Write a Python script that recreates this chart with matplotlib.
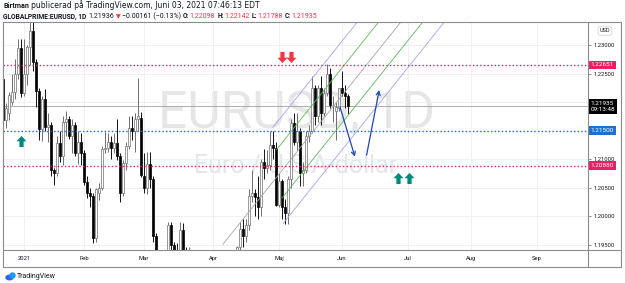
import matplotlib
matplotlib.use("Agg")
import matplotlib.pyplot as plt
import matplotlib.transforms as mtransforms
from matplotlib.path import Path
from matplotlib.patches import Ellipse
import numpy as np

W, H, DPI = 625, 283, 100

# GLOBALPRIME:EURUSD daily candles, 22 Dec 2020 .. 3 Jun 2021 (one entry per bar)
opens = [1.2241, 1.2168, 1.2180, 1.2200, 1.2218, 1.2250, 1.2294, 1.2215, 1.2250, 1.2297,
         1.2325, 1.2270, 1.2220, 1.2152, 1.2206, 1.2157, 1.2160, 1.2080, 1.2075, 1.2128,
         1.2105, 1.2165, 1.2170, 1.2140, 1.2160, 1.2110, 1.2130, 1.2110, 1.2060, 1.2040,
         1.2035, 1.1962, 1.2040, 1.2050, 1.2118, 1.2120, 1.2130, 1.2120, 1.2128, 1.2105,
         1.2040, 1.2093, 1.2122, 1.2155, 1.2150, 1.2170, 1.2172, 1.2070, 1.2049, 1.2092,
         1.2065, 1.1965, 1.1915, 1.1847, 1.1900, 1.1928, 1.1985, 1.1950, 1.1930, 1.1900,
         1.1975, 1.1915, 1.1905, 1.1935, 1.1850, 1.1815, 1.1780, 1.1795, 1.1765, 1.1730,
         1.1730, 1.1775, 1.1760, 1.1812, 1.1873, 1.1870, 1.1915, 1.1900, 1.1910, 1.1945,
         1.1978, 1.1965, 1.1985, 1.2035, 1.2040, 1.2033, 1.2015, 1.2095, 1.2085, 1.2090,
         1.2125, 1.2120, 1.2020, 1.2062, 1.2015, 1.2005, 1.2065, 1.2163, 1.2130, 1.2150,
         1.2075, 1.2080, 1.2140, 1.2150, 1.2225, 1.2175, 1.2225, 1.2180, 1.2215, 1.2250,
         1.2195, 1.2185, 1.2190, 1.2225, 1.2215, 1.22098]
highs = [1.2245, 1.2198, 1.2218, 1.2250, 1.2275, 1.2310, 1.2310, 1.2310, 1.2300, 1.2349,
         1.2340, 1.2275, 1.2225, 1.2210, 1.2222, 1.2180, 1.2165, 1.2085, 1.2140, 1.2150,
         1.2175, 1.2185, 1.2175, 1.2170, 1.2165, 1.2150, 1.2145, 1.2115, 1.2070, 1.2050,
         1.2040, 1.2050, 1.2058, 1.2122, 1.2148, 1.2145, 1.2140, 1.2145, 1.2170, 1.2110,
         1.2098, 1.2130, 1.2175, 1.2175, 1.2180, 1.2243, 1.2183, 1.2110, 1.2113, 1.2113,
         1.2070, 1.1970, 1.1925, 1.1905, 1.1935, 1.1990, 1.1990, 1.1955, 1.1952, 1.1990,
         1.1988, 1.1945, 1.1945, 1.1940, 1.1860, 1.1830, 1.1800, 1.1800, 1.1775, 1.1747,
         1.1790, 1.1780, 1.1820, 1.1875, 1.1895, 1.1925, 1.1925, 1.1920, 1.1948, 1.1990,
         1.1995, 1.1995, 1.2048, 1.2080, 1.2048, 1.2070, 1.2100, 1.2117, 1.2115, 1.2150,
         1.2150, 1.2130, 1.2075, 1.2065, 1.2030, 1.2070, 1.2170, 1.2180, 1.2180, 1.2155,
         1.2095, 1.2150, 1.2160, 1.2245, 1.2230, 1.2230, 1.2245, 1.2225, 1.2266, 1.2260,
         1.2210, 1.2200, 1.2225, 1.2255, 1.2230, 1.22142]
lows = [1.2160, 1.2155, 1.2168, 1.2195, 1.2205, 1.2240, 1.2209, 1.2210, 1.2230, 1.2265,
        1.2255, 1.2192, 1.2133, 1.2132, 1.2150, 1.2130, 1.2070, 1.2055, 1.2070, 1.2095,
        1.2090, 1.2140, 1.2135, 1.2110, 1.2105, 1.2092, 1.2090, 1.2055, 1.2032, 1.2015,
        1.1952, 1.1955, 1.2028, 1.2045, 1.2110, 1.2112, 1.2100, 1.2110, 1.2098, 1.2025,
        1.2036, 1.2080, 1.2118, 1.2133, 1.2112, 1.2150, 1.2068, 1.2040, 1.2038, 1.2050,
        1.1955, 1.1893, 1.1835, 1.1835, 1.1865, 1.1915, 1.1910, 1.1905, 1.1895, 1.1885,
        1.1905, 1.1875, 1.1880, 1.1845, 1.1810, 1.1760, 1.1762, 1.1762, 1.1712, 1.1705,
        1.1705, 1.1745, 1.1740, 1.1795, 1.1835, 1.1865, 1.1870, 1.1875, 1.1870, 1.1935,
        1.1945, 1.1955, 1.1975, 1.2025, 1.2000, 1.1995, 1.2000, 1.2065, 1.2075, 1.2080,
        1.2100, 1.2018, 1.2015, 1.1995, 1.1986, 1.1986, 1.2050, 1.2125, 1.2115, 1.2052,
        1.2052, 1.2075, 1.2130, 1.2145, 1.2160, 1.2165, 1.2160, 1.2175, 1.2210, 1.2190,
        1.2165, 1.2133, 1.2185, 1.2210, 1.2190, 1.21788]
closes = [1.2168, 1.2189, 1.2212, 1.2218, 1.2250, 1.2294, 1.2215, 1.2250, 1.2297, 1.2325,
          1.2270, 1.2220, 1.2152, 1.2206, 1.2157, 1.2160, 1.2080, 1.2075, 1.2128, 1.2105,
          1.2165, 1.2170, 1.2140, 1.2160, 1.2110, 1.2130, 1.2110, 1.2060, 1.2040, 1.2035,
          1.1962, 1.2048, 1.2050, 1.2118, 1.2120, 1.2130, 1.2120, 1.2128, 1.2105, 1.2040,
          1.2093, 1.2122, 1.2155, 1.2150, 1.2170, 1.2175, 1.2072, 1.2049, 1.2092, 1.2065,
          1.1965, 1.1915, 1.1847, 1.1900, 1.1928, 1.1985, 1.1950, 1.1930, 1.1900, 1.1975,
          1.1915, 1.1905, 1.1935, 1.1850, 1.1815, 1.1780, 1.1795, 1.1765, 1.1730, 1.1730,
          1.1775, 1.1760, 1.1812, 1.1873, 1.1870, 1.1915, 1.1900, 1.1910, 1.1945, 1.1978,
          1.1965, 1.1985, 1.2035, 1.2040, 1.2033, 1.2015, 1.2095, 1.2085, 1.2090, 1.2125,
          1.2120, 1.2020, 1.2062, 1.2015, 1.2005, 1.2065, 1.2163, 1.2130, 1.2150, 1.2075,
          1.2080, 1.2140, 1.2150, 1.2225, 1.2175, 1.2225, 1.2180, 1.2215, 1.2250, 1.2195,
          1.2195, 1.2192, 1.2225, 1.2215, 1.2210, 1.21935]

# time axis: first bar of each month (bar index) and its label
month_bars = [8, 28, 48, 71, 93, 114, 136, 157, 179]
month_labels = ["2021", "Feb", "Mar", "Apr", "Maj", "Jun", "Jul", "Aug", "Sep"]
price_ticks = [1.195, 1.200, 1.205, 1.210, 1.215, 1.220, 1.225, 1.230]
# these two sit under the price boxes on the scale
hidden_ticks = [1.215, 1.220]

# horizontal levels and the live price
levels = [1.22651, 1.21500, 1.20880]
last_price = 1.21935
countdown = "09:13:48"

# fib channel lines: start (bar, price) -> end (bar, price)
chan_x0 = [91.0, 92.2, 74.3, 94.0, 94.4]
chan_p0 = [1.21557, 1.21165, 1.19504, 1.20316, 1.19870]
chan_x1 = [122.1, 129.2, 136.6, 143.9, 151.1]
chan_p1 = [1.2360, 1.2360, 1.2360, 1.2360, 1.2360]

# hand drawn projection arrows (bar, price)
path1_from, path1_to = (113.3, 1.21918), (118.3, 1.21040)
path2_from, path2_to = (122.2, 1.21070), (126.4, 1.22211)

# block arrows
up_bars = [7.0, 132.5, 136.3]
up_prices = [1.21316, 1.20675, 1.20675]
down_bars = [94.0, 97.0]
down_prices = [1.22795, 1.22795]

RED = "#f23645"
PINK = "#e91e63"
BLUE = "#1f6fd1"
TEAL = "#00897b"
INK = "#131722"
FRAME = "#8c8c8c"

fig = plt.figure(figsize=(W / DPI, H / DPI), dpi=DPI)
fig.patch.set_facecolor("white")
ax = fig.add_axes([3 / W, 1 - 250 / H, 585 / W, 228 / H])
ax.set_xlim(1, 196)
ax.set_ylim(1.19404, 1.23404)
for s in ax.spines.values():
    s.set_visible(False)

ax.set_xticks(month_bars, month_labels)
ax.set_yticks(price_ticks, ["" if p in hidden_ticks else f"{p:.5f}" for p in price_ticks])
ax.yaxis.tick_right()
ax.tick_params(axis="y", length=2.2, width=0.6, color="#787b86", pad=1.5,
               labelsize=4.2, labelcolor=INK)
ax.tick_params(axis="x", length=0, pad=4.6, labelsize=4.2, labelcolor=INK)
for lab in ax.get_xticklabels() + ax.get_yticklabels():
    lab.set_family("Roboto")
ax.grid(color="#eeeeee", lw=0.6, zorder=0)
ax.set_axisbelow(True)

# watermark
ax.text(0.501, 0.535, "EURUSD, 1D", transform=ax.transAxes, ha="center", va="baseline",
        fontsize=37, family="Roboto", color="#e6e6e6", zorder=0.5)
ax.text(0.501, 0.338, "Euro / U.S.A-dollar", transform=ax.transAxes, ha="center",
        va="baseline", fontsize=18, family="Roboto", color="#e6e6e6", zorder=0.5)

# candles
o, h, l, c = (np.array(v) for v in (opens, highs, lows, closes))
x = np.arange(1, len(o) + 1)
up = c >= o
ax.vlines(x, l, h, colors=np.where(up, "#6f6f6f", "#111111"), lw=0.7, zorder=2)
ax.bar(x, np.maximum(np.abs(c - o), 0.00005), bottom=np.minimum(o, c), width=0.7,
       color=np.where(up, "white", "black"), edgecolor=np.where(up, "#6f6f6f", "black"),
       linewidth=0.5, zorder=3)

# channel
chan_col = ["#a5a3f2", "#5cb85c", "#a6a6a6", "#5cb85c", "#a5a3f2"]
for x0, p0, x1, p1, col in zip(chan_x0, chan_p0, chan_x1, chan_p1, chan_col):
    ax.plot([x0, x1], [p0, p1], color=col, lw=0.6, zorder=4)

# levels
ax.axhline(last_price, color="#a0a0a0", lw=0.6, zorder=1.5)
for lvl, col in zip(levels, [PINK, BLUE, PINK]):
    ax.axhline(lvl, color=col, lw=1.0, ls=(0, (1, 1.6)), zorder=4)

# projection arrows
for a, b in ((path1_from, path1_to), (path2_from, path2_to)):
    ax.annotate("", xy=b, xytext=a,
                arrowprops=dict(arrowstyle="->", color="#1f48ad", lw=0.9,
                                mutation_scale=7, shrinkA=0, shrinkB=0), zorder=5)

# block arrows
verts = [(0, 0.5), (0.45, 0.02), (0.19, 0.02), (0.19, -0.5), (-0.19, -0.5),
         (-0.19, 0.02), (-0.45, 0.02), (0, 0.5)]
up_path = Path(verts, closed=True)
down_path = Path([(vx, -vy) for vx, vy in verts], closed=True)
ax.plot(up_bars, up_prices, ls="none", marker=up_path, ms=8, color=TEAL, mec="none", zorder=6)
ax.plot(down_bars, down_prices, ls="none", marker=down_path, ms=8, color=RED, mec="none", zorder=6)

# price scale labels
trans = mtransforms.blended_transform_factory(ax.transAxes, ax.transData)
for lvl, col in zip(levels, [PINK, BLUE, PINK]):
    ax.text(1.004, lvl, f"{lvl:.5f}", transform=trans, ha="left", va="center",
            fontsize=4.6, family="Roboto", color="white", clip_on=False, zorder=10,
            bbox=dict(boxstyle="square,pad=0.3", fc=col, ec="none"))
ax.text(1.004, last_price, f"{last_price:.5f}\n{countdown}",
        transform=mtransforms.offset_copy(trans, fig=fig, y=3.2, units="points"),
        ha="left", va="top", fontsize=4.6, family="Roboto", color="white",
        linespacing=1.15, clip_on=False, zorder=10,
        bbox=dict(boxstyle="square,pad=0.3", fc="black", ec="none"))

# overlay in pixel coordinates for the frame and page text
ov = fig.add_axes([0, 0, 1, 1], zorder=5)
ov.set_xlim(0, W)
ov.set_ylim(H, 0)
ov.axis("off")
ov.patch.set_alpha(0)
ov.plot([3, 621, 621, 3, 3], [22, 22, 267, 267, 22], color=FRAME, lw=0.8)
ov.plot([588, 588], [22, 267], color=FRAME, lw=0.8)
ov.plot([3, 621], [250, 250], color=FRAME, lw=0.8)
ov.text(605, 31, "USD", ha="center", va="center", fontsize=4, family="Roboto", color=INK,
        bbox=dict(boxstyle="round,pad=0.3,rounding_size=0.3", fc="white", ec="#c9c9c9", lw=0.5))

renderer = fig.canvas.get_renderer()


def chain(pieces, x0, y0):
    # lay the header pieces out one after another
    xx = x0
    for txt, col, bold, fam, size, gap in pieces:
        t = ov.text(xx, y0, txt, color=col, fontsize=size, family=fam,
                    fontweight="bold" if bold else "normal", va="baseline", ha="left")
        xx += t.get_window_extent(renderer=renderer).width + gap


chain([("Birtman", INK, True, "Roboto", 5.1, 2.2),
       ("publicerad på TradingView.com, Juni 03, 2021 07:46:13 EDT", INK, False,
        "DejaVu Sans", 5.5, 0)], 3, 8.3)
R = "Roboto"
chain([("GLOBALPRIME:EURUSD, 1D", INK, True, R, 4.9, 2.5),
       ("1.21936", INK, False, R, 5.0, 1.2), ("▼", RED, False, "DejaVu Sans", 4.4, 1.2),
       ("−0.00161 (−0.13%)", INK, False, R, 5.0, 2.5),
       ("O:", INK, True, R, 4.8, 0.3), ("1.22098", RED, False, R, 5.0, 2.2),
       ("H:", INK, True, R, 4.8, 0.3), ("1.22142", RED, False, R, 5.0, 2.2),
       ("L:", INK, True, R, 4.8, 0.3), ("1.21788", RED, False, R, 5.0, 2.2),
       ("C:", INK, True, R, 4.8, 0.3), ("1.21935", RED, False, R, 5.0, 0)], 3, 18.3)

# TradingView logo
ov.add_patch(Ellipse((9.5, 277.5), 7, 4.5, color="#2962ff"))
ov.add_patch(Ellipse((12.5, 275.5), 5, 5, color="#2196f3"))
ov.text(17, 276.5, "TradingView", ha="left", va="center", fontsize=5, family="Roboto", color=INK)

fig.savefig("out.png", dpi=DPI, facecolor="white")
